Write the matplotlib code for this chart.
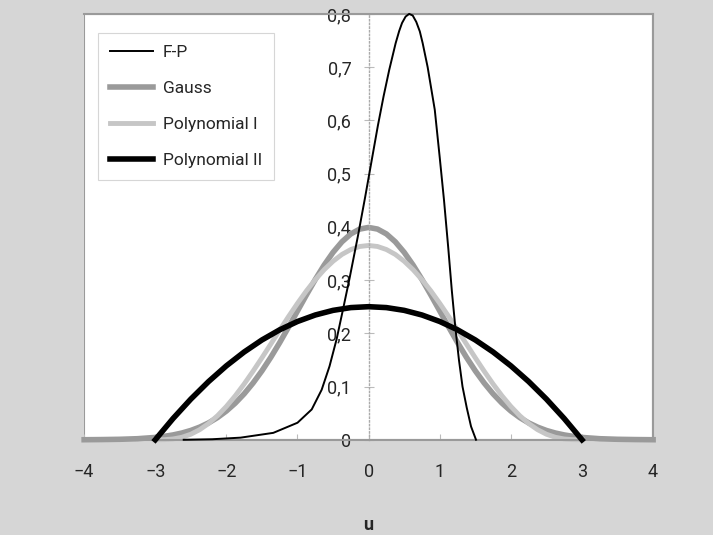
"""
Density comparison: F-P, Gauss and two polynomial kernels
"""

import numpy as np
import matplotlib.pyplot as plt
from matplotlib.patches import Rectangle

# ============================================================
# Data
# ============================================================

U_GAUSS = [-4.0, -3.75, -3.5, -3.25,
           -3.0, -2.875, -2.75, -2.625, -2.5, -2.375, -2.25, -2.125, -2.0,
           -1.875, -1.75, -1.625, -1.5, -1.375, -1.25, -1.125, -1.0,
           -0.875, -0.75, -0.625, -0.5, -0.375, -0.25, -0.125, 0.0,
           0.125, 0.25, 0.375, 0.5, 0.625, 0.75, 0.875, 1.0,
           1.125, 1.25, 1.375, 1.5, 1.625, 1.75, 1.875, 2.0,
           2.125, 2.25, 2.375, 2.5, 2.625, 2.75, 2.875, 3.0,
           3.25, 3.5, 3.75, 4.0]
V_GAUSS = [0.0001, 0.0004, 0.0009, 0.0020,
           0.0044, 0.0064, 0.0091, 0.0127, 0.0175, 0.0238, 0.0317, 0.0417, 0.0540,
           0.0688, 0.0863, 0.1066, 0.1295, 0.1550, 0.1826, 0.2119, 0.2420,
           0.2720, 0.3011, 0.3282, 0.3521, 0.3719, 0.3867, 0.3958, 0.3989,
           0.3958, 0.3867, 0.3719, 0.3521, 0.3282, 0.3011, 0.2720, 0.2420,
           0.2119, 0.1826, 0.1550, 0.1295, 0.1066, 0.0863, 0.0688, 0.0540,
           0.0417, 0.0317, 0.0238, 0.0175, 0.0127, 0.0091, 0.0064, 0.0044,
           0.0020, 0.0009, 0.0004, 0.0001]

U_POLY1 = [-3.0, -2.875, -2.75, -2.625, -2.5, -2.375, -2.25, -2.125, -2.0,
           -1.875, -1.75, -1.625, -1.5, -1.375, -1.25, -1.125, -1.0,
           -0.875, -0.75, -0.625, -0.5, -0.375, -0.25, -0.125, 0.0,
           0.125, 0.25, 0.375, 0.5, 0.625, 0.75, 0.875, 1.0,
           1.125, 1.25, 1.375, 1.5, 1.625, 1.75, 1.875, 2.0,
           2.125, 2.25, 2.375, 2.5, 2.625, 2.75, 2.875, 3.0]
V_POLY1 = [0.0, 0.0002, 0.0015, 0.0047, 0.0104, 0.0190, 0.0306, 0.0452, 0.0626,
           0.0826, 0.1048, 0.1288, 0.1540, 0.1799, 0.2060, 0.2317, 0.2563,
           0.2796, 0.3008, 0.3195, 0.3354, 0.3482, 0.3574, 0.3631, 0.3650,
           0.3631, 0.3574, 0.3482, 0.3354, 0.3195, 0.3008, 0.2796, 0.2563,
           0.2317, 0.2060, 0.1799, 0.1540, 0.1288, 0.1048, 0.0826, 0.0626,
           0.0452, 0.0306, 0.0190, 0.0104, 0.0047, 0.0015, 0.0002, 0.0]

U_POLY2 = [-3.0, -2.75, -2.5, -2.25, -2.0, -1.75, -1.5, -1.25, -1.0, -0.75, -0.5,
           -0.25, 0.0, 0.25, 0.5, 0.75, 1.0, 1.25, 1.5, 1.75, 2.0, 2.25, 2.5,
           2.75, 3.0]
V_POLY2 = [0.0, 0.0399, 0.0764, 0.1094, 0.1389, 0.1649, 0.1875, 0.2066, 0.2222,
           0.2344, 0.2431, 0.2483, 0.2500, 0.2483, 0.2431, 0.2344, 0.2222, 0.2066,
           0.1875, 0.1649, 0.1389, 0.1094, 0.0764, 0.0399, 0.0]

U_FP = [-2.6, -2.2, -1.8, -1.34, -1.0, -0.8, -0.66, -0.55, -0.45, -0.36, -0.27,
        -0.15, -0.05, 0.05, 0.13, 0.21, 0.29, 0.38, 0.43, 0.47, 0.52, 0.57, 0.62,
        0.67, 0.72, 0.76, 0.83, 0.93, 1.0, 1.06, 1.12, 1.17, 1.22, 1.27, 1.32,
        1.38, 1.44, 1.51]
V_FP = [0.0, 0.001, 0.004, 0.013, 0.032, 0.057, 0.094, 0.138, 0.189, 0.245, 0.302,
        0.383, 0.455, 0.53, 0.59, 0.645, 0.695, 0.745, 0.768, 0.783, 0.795, 0.80,
        0.797, 0.785, 0.767, 0.745, 0.70, 0.62, 0.53, 0.45, 0.36, 0.28, 0.21, 0.15,
        0.10, 0.06, 0.025, 0.0]

X_TICKS = [-4, -3, -2, -1, 0, 1, 2, 3, 4]
Y_TICKS = [0, 0.1, 0.2, 0.3, 0.4, 0.5, 0.6, 0.7, 0.8]
Y_TICK_LABELS = ['0', '0,1', '0,2', '0,3', '0,4', '0,5', '0,6', '0,7', '0,8']

FONT = ['Roboto', 'DejaVu Sans']
TEXT_COLOR = '#262626'


def main():
    plt.rcParams['font.family'] = FONT
    fig = plt.figure(figsize=(7.13, 5.35), dpi=100, facecolor='#d6d6d6')
    ax = fig.add_axes([0.118, 0.178, 0.798, 0.796])
    ax.set_facecolor('white')

    ax.plot(U_GAUSS, V_GAUSS, color='#9a9a9a', lw=4.0, label='Gauss',
            clip_on=False, zorder=2, solid_joinstyle='round')
    ax.plot(U_POLY1, V_POLY1, color='#c6c6c6', lw=3.5, label='Polynomial I',
            clip_on=False, zorder=2, solid_joinstyle='round')
    ax.plot(U_POLY2, V_POLY2, color='black', lw=4.0, label='Polynomial II',
            clip_on=False, zorder=3, solid_joinstyle='round')
    ax.plot(U_FP, V_FP, color='black', lw=1.4, label='F-P',
            clip_on=False, zorder=4, solid_joinstyle='round')

    ax.set_xlim(-4, 4)
    ax.set_ylim(0, 0.8)

    # frame
    for side in ['top', 'right', 'bottom']:
        ax.spines[side].set_color('#9a9a9a')
        ax.spines[side].set_linewidth(1.5)
    ax.spines['left'].set_position(('data', 0))
    ax.spines['left'].set_color('#aaaaaa')
    ax.spines['left'].set_linestyle(':')
    ax.spines['left'].set_linewidth(1.0)
    ax.add_patch(Rectangle((0, 0), 1, 1, transform=ax.transAxes, fill=False,
                           edgecolor='#9a9a9a', lw=1.5, zorder=0))

    ax.set_xticks(X_TICKS)
    ax.set_yticks(Y_TICKS)
    ax.set_yticklabels(Y_TICK_LABELS)
    ax.tick_params(axis='x', direction='in', length=4, color='#bbbbbb', pad=17,
                   labelsize=13, labelcolor=TEXT_COLOR)
    ax.tick_params(axis='y', direction='inout', length=7, color='#bbbbbb', pad=9,
                   labelsize=13, labelcolor=TEXT_COLOR)
    ax.set_xlabel('u', fontsize=13, fontweight='bold', color=TEXT_COLOR, labelpad=25)

    handles, labels = ax.get_legend_handles_labels()
    order = [3, 0, 1, 2]
    leg = ax.legend([handles[i] for i in order], [labels[i] for i in order],
                    loc='upper left', bbox_to_anchor=(0.024, 0.955), fontsize=12.5,
                    frameon=True, fancybox=False, edgecolor='#cccccc',
                    handlelength=2.5, handletextpad=0.55, labelspacing=1.2,
                    borderpad=0.7, borderaxespad=0.0)
    leg.get_frame().set_linewidth(0.8)
    for t in leg.get_texts():
        t.set_color(TEXT_COLOR)

    fig.savefig('out.png', dpi=100, facecolor=fig.get_facecolor())


if __name__ == '__main__':
    main()
